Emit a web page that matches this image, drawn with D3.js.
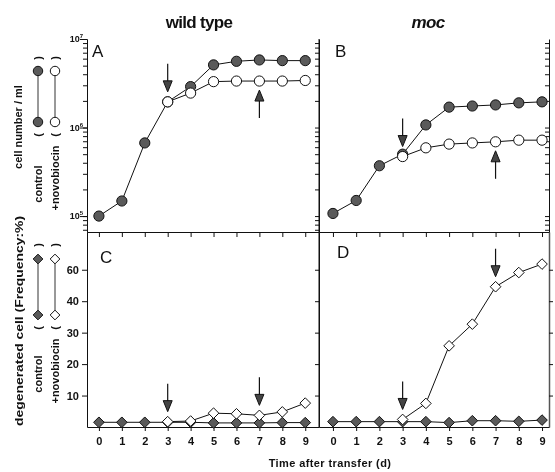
<!DOCTYPE html>
<html>
<head>
<meta charset="utf-8">
<script src="https://cdn.jsdelivr.net/npm/d3@7"></script>
<style>
  body { margin: 0; background: #fff; }
  svg { display: block; font-family: "Liberation Sans", Arial, sans-serif; will-change: transform; }
  svg text { fill: #111; }
  .tick text { font-weight: bold; font-size: 11px; }
  .domain, .tick line { stroke: #111; }
</style>
</head>
<body>
<svg id="chart" width="555" height="472"></svg>
<script>
// days after transfer
var days = [0, 1, 2, 3, 4, 5, 6, 7, 8, 9];
var novoDays = [3, 4, 5, 6, 7, 8, 9];

// cell number / ml
var wtControlCells = [1.0e5, 1.48e5, 6.7e5, 1.95e6, 2.9e6, 5.1e6, 5.6e6, 5.8e6, 5.7e6, 5.7e6];
var wtNovoCells = [1.95e6, 2.45e6, 3.3e6, 3.35e6, 3.35e6, 3.35e6, 3.4e6];
var mocControlCells = [1.07e5, 1.5e5, 3.7e5, 5.0e5, 1.07e6, 1.7e6, 1.75e6, 1.8e6, 1.9e6, 1.95e6];
var mocNovoCells = [4.7e5, 5.9e5, 6.5e5, 6.7e5, 6.9e5, 7.2e5, 7.2e5];

// degenerated cells (%)
var wtControlDeg = [1.5, 1.5, 1.5, 1.5, 1.5, 1.3, 1.3, 1.3, 1.4, 1.4];
var wtNovoDeg = [1.7, 1.9, 4.4, 4.2, 3.7, 4.8, 7.6];
var mocControlDeg = [1.7, 1.7, 1.7, 1.7, 1.7, 1.4, 2.0, 2.0, 1.8, 2.2];
var mocNovoDeg = [2.4, 7.5, 25.8, 32.7, 44.6, 49.1, 51.8];

// y tick labels of the lower panels, as printed
var degTicks = [10, 20, 30, 40, 50];
var degTickLabels = ["10", "20", "30", "40", "60"];
var cellMajor = [1e5, 1e6, 1e7];

// arrows: [day, direction]
var arrowsA = [[3, "down"], [7, "up"]];
var arrowsB = [[3, "down"], [7, "up"]];
var arrowsC = [[3, "down"], [7, "down"]];
var arrowsD = [[3, "down"], [7, "down"]];

var svg = d3.select("#chart");

var left = 87, mid = 319, right = 549;
var top0 = 39, midY = 232, bottom = 427;

var xL = d3.scaleLinear().domain([-0.52, 9.6]).range([left, mid]);
var xR = d3.scaleLinear().domain([-0.6, 9.3]).range([mid, right]);
var yCells = d3.scaleLog().domain([Math.pow(10, 4.82), 1e7]).range([midY, top0]);
var yDeg = d3.scaleLinear().domain([0, 62]).range([bottom, midY]);

var minorTicks = [];
[1e4, 1e5, 1e6].forEach(function(dec) {
	for (var k = 1; k <= 9; k++) {
		var v = dec * k;
		if (v >= yCells.domain()[0] && v <= 1e7) minorTicks.push(v);
	}
});

// ---- frames / axes ----
function logAxis(x, len) {
	svg.append("g").attr("transform", "translate(" + x + ",0)")
		.call(d3.axisLeft(yCells).tickValues(minorTicks).tickSize(len).tickSizeOuter(0).tickFormat(""));
}
logAxis(left, 4);
logAxis(mid, 4);
logAxis(right, 4);

// major log ticks on left axis
svg.append("g").attr("transform", "translate(" + left + ",0)")
	.call(d3.axisLeft(yCells).tickValues(cellMajor).tickSize(7).tickSizeOuter(0).tickFormat(""));

var lab = svg.append("g");
cellMajor.forEach(function(v) {
	var t = lab.append("text")
		.attr("x", left - 4).attr("y", yCells(v) + 3)
		.attr("text-anchor", "end")
		.style("font-size", "9px").style("font-weight", "bold");
	t.append("tspan").text("10");
	t.append("tspan").attr("dy", -4).style("font-size", "6px").text(Math.round(Math.log10(v)));
});

// lower y axes
svg.append("g").attr("transform", "translate(" + left + ",0)")
	.call(d3.axisLeft(yDeg).tickValues(degTicks).tickSize(5).tickSizeOuter(0)
		.tickFormat(function(d, i) { return degTickLabels[i]; }));
svg.append("g").attr("transform", "translate(" + mid + ",0)")
	.call(d3.axisLeft(yDeg).tickValues(degTicks).tickSize(4).tickSizeOuter(0).tickFormat(""));
svg.append("g").attr("transform", "translate(" + right + ",0)")
	.call(d3.axisRight(yDeg).tickValues(degTicks).tickSize(4).tickSizeOuter(0).tickFormat(""))
	.select(".domain").style("stroke", "#555").style("stroke-width", 1.5);

// x axes
svg.append("g").attr("transform", "translate(0," + midY + ")")
	.call(d3.axisBottom(xL).tickValues(days).tickSize(5).tickSizeOuter(0).tickFormat(""));
svg.append("g").attr("transform", "translate(0," + midY + ")")
	.call(d3.axisBottom(xR).tickValues(days).tickSize(5).tickSizeOuter(0).tickFormat(""));
svg.append("g").attr("transform", "translate(0," + bottom + ")")
	.call(d3.axisBottom(xL).tickValues(days).tickSize(4).tickSizeOuter(0).tickPadding(6));
svg.append("g").attr("transform", "translate(0," + bottom + ")")
	.call(d3.axisBottom(xR).tickValues(days).tickSize(4).tickSizeOuter(0).tickPadding(6));

// ---- series ----
function marker(shape, big) {
	if (shape == "circle") return d3.symbol().type(d3.symbolCircle).size(big ? 82 : 70);
	return d3.symbol().type(d3.symbolDiamond2).size(big ? 72 : 60);
}

function drawSeries(x, y, xs, ys, shape, filled) {
	var line = d3.line().x(function(d) { return x(d[0]); }).y(function(d) { return y(d[1]); });
	var pts = xs.map(function(d, i) { return [d, ys[i]]; });
	svg.append("path").datum(pts).attr("d", line)
		.attr("fill", "none").attr("stroke", "#111").attr("stroke-width", 1);
	svg.append("g").selectAll("path").data(pts).enter().append("path")
		.attr("transform", function(d) { return "translate(" + x(d[0]) + "," + y(d[1]) + ")"; })
		.attr("d", marker(shape, true))
		.attr("fill", filled ? "#5a5a5a" : "#fff")
		.attr("stroke", "#111").attr("stroke-width", 1);
}

function drawArrows(x, y, arrows, ys) {
	arrows.forEach(function(a) {
		var i = novoDays.indexOf(a[0]);
		var cx = x(a[0]), py = y(ys[i]);
		var g = svg.append("g");
		var tip, s;
		if (a[1] == "down") { tip = py - 10; s = -1; } else { tip = py + 9; s = 1; }
		g.append("line").attr("x1", cx).attr("x2", cx)
			.attr("y1", tip + s * 28).attr("y2", tip + s * 10)
			.attr("stroke", "#111").attr("stroke-width", 1.2);
		g.append("path")
			.attr("d", "M" + (cx - 4.5) + "," + (tip + s * 11) + "L" + (cx + 4.5) + "," + (tip + s * 11) + "L" + cx + "," + tip + "Z")
			.attr("fill", "#444").attr("stroke", "#111").attr("stroke-width", 1);
	});
}

drawSeries(xL, yCells, days, wtControlCells, "circle", true);
drawSeries(xL, yCells, novoDays, wtNovoCells, "circle", false);
drawSeries(xR, yCells, days, mocControlCells, "circle", true);
drawSeries(xR, yCells, novoDays, mocNovoCells, "circle", false);
drawSeries(xL, yDeg, days, wtControlDeg, "diamond", true);
drawSeries(xL, yDeg, novoDays, wtNovoDeg, "diamond", false);
drawSeries(xR, yDeg, days, mocControlDeg, "diamond", true);
drawSeries(xR, yDeg, novoDays, mocNovoDeg, "diamond", false);

drawArrows(xL, yCells, arrowsA, wtNovoCells);
drawArrows(xR, yCells, arrowsB, mocNovoCells);
drawArrows(xL, yDeg, arrowsC, wtNovoDeg);
drawArrows(xR, yDeg, arrowsD, mocNovoDeg);

// ---- texts ----
svg.append("text").attr("x", 199).attr("y", 28).attr("text-anchor", "middle")
	.style("font-size", "17px").style("font-weight", "bold").style("letter-spacing", "-0.7px")
	.text("wild type");
svg.append("text").attr("x", 428).attr("y", 28).attr("text-anchor", "middle")
	.style("font-size", "17px").style("font-weight", "bold").style("font-style", "italic")
	.style("letter-spacing", "-0.7px").text("moc");

[["A", 92, 57], ["B", 335, 57], ["C", 100, 263], ["D", 337, 258]].forEach(function(p) {
	svg.append("text").attr("x", p[1]).attr("y", p[2]).style("font-size", "17px").text(p[0]);
});

svg.append("text").attr("x", 330).attr("y", 467).attr("text-anchor", "middle")
	.style("font-size", "11px").style("font-weight", "bold").style("letter-spacing", "0.4px")
	.text("Time after transfer (d)");

function vtext(x, y, str, size, len) {
	var t = svg.append("text").attr("transform", "translate(" + x + "," + y + ") rotate(-90)")
		.attr("text-anchor", "middle")
		.style("font-size", size + "px").style("font-weight", "bold").text(str);
	if (len) t.attr("textLength", len).attr("lengthAdjust", "spacingAndGlyphs");
	return t;
}
vtext(22, 127, "cell number / ml", 11);
vtext(23, 321, "degenerated cell (Frequency:%)", 11.5, 210);

// legends
function legend(shape, items, yOpen, yM1, yM2, yClose) {
	items.forEach(function(it) {
		var cx = it[0];
		vtext(cx + 4, it[2], it[1], 11);
		vtext(cx + 4, yOpen, "(", 11);
		vtext(cx + 4, yClose, ")", 11);
		svg.append("line").attr("x1", cx).attr("x2", cx).attr("y1", yM1).attr("y2", yM2)
			.attr("stroke", "#333").attr("stroke-width", 1);
		[yM1, yM2].forEach(function(yy) {
			svg.append("path").attr("transform", "translate(" + cx + "," + yy + ")")
				.attr("d", marker(shape, false)).attr("fill", it[3] ? "#5a5a5a" : "#fff")
				.attr("stroke", "#111").attr("stroke-width", 1);
		});
	});
}
legend("circle", [[38, "control", 184, true], [55, "+novobiocin", 178, false]], 135, 122, 71, 58);
legend("diamond", [[38, "control", 374, true], [55, "+novobiocin", 371, false]], 328, 315, 259, 245);

// divider line between left and right panels
svg.append("line").attr("x1", mid).attr("x2", mid).attr("y1", top0).attr("y2", bottom).attr("stroke", "#111");
</script>
</body>
</html>
